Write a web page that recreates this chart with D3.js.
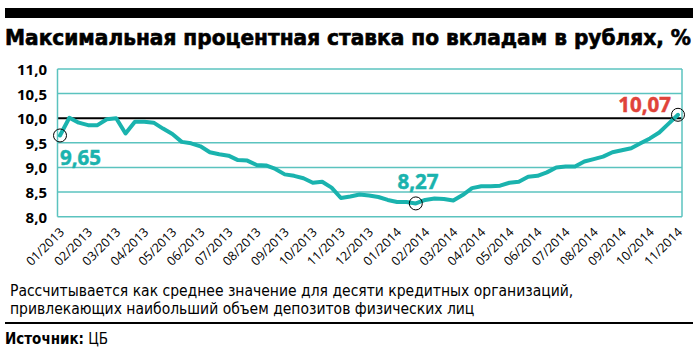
<!DOCTYPE html>
<html><head><meta charset="utf-8">
<script src="https://cdn.jsdelivr.net/npm/d3@7"></script>
<style>
html,body{margin:0;padding:0;background:#fff;}
svg{display:block;}
</style>
</head><body>
<svg id="c" width="700" height="350"></svg>
<script>
const title = "Максимальная процентная ставка по вкладам в рублях, %";
const note1 = "Рассчитывается как среднее значение для десяти кредитных организаций,";
const note2 = "привлекающих наибольший объем депозитов физических лиц";
const sourceLabel = "Источник:";
const sourceText = " ЦБ";
const months = ["01/2013","02/2013","03/2013","04/2013","05/2013","06/2013","07/2013","08/2013","09/2013","10/2013","11/2013","12/2013",
  "01/2014","02/2014","03/2014","04/2014","05/2014","06/2014","07/2014","08/2014","09/2014","10/2014","11/2014"];
const rates = [9.65, 10.01, 9.91, 9.86, 9.86, 9.98, 10.0, 9.69, 9.93, 9.93,
  9.91, 9.79, 9.68, 9.52, 9.49, 9.43, 9.31, 9.27, 9.24, 9.15,
  9.14, 9.05, 9.04, 8.97, 8.86, 8.83, 8.78, 8.69, 8.71, 8.59,
  8.38, 8.41, 8.45, 8.43, 8.40, 8.34, 8.30, 8.30, 8.27, 8.34,
  8.37, 8.36, 8.33, 8.44, 8.58, 8.62, 8.62, 8.63, 8.69, 8.71,
  8.81, 8.83, 8.90, 9.00, 9.02, 9.02, 9.12, 9.17, 9.22, 9.31,
  9.35, 9.39, 9.49, 9.59, 9.71, 9.89, 10.07];
const yTicks = [8.0, 8.5, 9.0, 9.5, 10.0, 10.5, 11.0];
const calloutIdx = [0, 38, 66];
const calloutText = ["9,65", "8,27", "10,07"];

const svg = d3.select("#c");
const TEAL = "#1ab3ae", GRID = "#5bc3bf", RED = "#e0433a";
const L = 57.5, R = 682, T = 69, B = 216.7;
const x = d3.scaleLinear().domain([0, rates.length - 1]).range([60, 678]);
const y = d3.scaleLinear().domain([8, 11]).range([B, T]);
const fmt = v => d3.format(".1f")(v).replace(".", ",");

// top bar
svg.append("rect").attr("x", 5).attr("y", 8).attr("width", 688).attr("height", 10).attr("fill", "#000");
svg.append("text").attr("x", 5).attr("y", 45)
  .attr("font-family", "'DejaVu Sans Condensed','DejaVu Sans'").attr("font-weight", "bold")
  .attr("font-size", 22).attr("textLength", 686).attr("lengthAdjust", "spacingAndGlyphs")
  .attr("fill", "#000").attr("stroke", "#000").attr("stroke-width", 0.6).text(title);

// gridlines
const g = svg.append("g");
g.selectAll("line.grid").data(yTicks).enter().append("line")
  .attr("x1", L).attr("x2", R).attr("y1", d => y(d)).attr("y2", d => y(d))
  .attr("stroke", d => d === 10 ? "#000" : GRID).attr("stroke-width", d => d === 10 ? 2 : 1.5);
g.append("line").attr("x1", L).attr("x2", L).attr("y1", T).attr("y2", B).attr("stroke", GRID).attr("stroke-width", 1.5);
g.append("line").attr("x1", R).attr("x2", R).attr("y1", T).attr("y2", B).attr("stroke", GRID).attr("stroke-width", 1.5);

// y axis labels
const yAxis = d3.axisLeft(y).tickValues(yTicks).tickFormat(fmt).tickSize(0).tickPadding(0);
const ya = svg.append("g").attr("transform", `translate(47,0)`).call(yAxis);
ya.select(".domain").remove();
ya.selectAll("text").attr("font-family", "'Open Sans'").attr("font-weight", "bold")
  .attr("font-size", 15).attr("fill", "#000").attr("dy", "0.36em");

// x axis labels
const xa = svg.append("g");
xa.selectAll("text").data(months).enter().append("text")
  .attr("transform", (d, i) => `translate(${x(i * 3) + 5},233) rotate(-45)`)
  .attr("text-anchor", "end")
  .attr("font-family", "'Open Sans'").attr("font-weight", 500).attr("font-size", 12.5).attr("fill", "#000")
  .text(d => d);

// line
const line = d3.line().x((d, i) => x(i)).y(d => y(d)).curve(d3.curveLinear);
svg.append("path").datum(rates).attr("d", line).attr("fill", "none")
  .attr("stroke", TEAL).attr("stroke-width", 4).attr("stroke-linejoin", "round").attr("stroke-linecap", "round");

// callouts
svg.selectAll("circle.co").data(calloutIdx).enter().append("circle")
  .attr("cx", d => x(d)).attr("cy", d => y(rates[d]))
  .attr("r", 6.5).attr("fill", "none").attr("stroke", "#000").attr("stroke-width", 1);
const labelPos = [[60, 165, "start", TEAL], [418, 189, "middle", TEAL], [671, 112, "end", RED]];
svg.selectAll("text.co").data(calloutText).enter().append("text")
  .attr("x", (d, i) => labelPos[i][0]).attr("y", (d, i) => labelPos[i][1])
  .attr("text-anchor", (d, i) => labelPos[i][2]).attr("fill", (d, i) => labelPos[i][3])
  .attr("stroke", (d, i) => labelPos[i][3]).attr("stroke-width", 0.5)
  .attr("font-family", "'Open Sans'").attr("font-weight", "bold").attr("font-size", 20.5)
  .text(d => d);

// footnote
const fn = svg.append("g").attr("font-family", "'DejaVu Sans Condensed','DejaVu Sans'").attr("font-size", 15.5).attr("fill", "#000");
fn.append("text").attr("x", 10).attr("y", 296).text(note1);
fn.append("text").attr("x", 10).attr("y", 314).text(note2);
svg.append("line").attr("x1", 5).attr("x2", 693).attr("y1", 323).attr("y2", 323).attr("stroke", "#000").attr("stroke-width", 2);
const src = svg.append("text").attr("x", 5).attr("y", 344).attr("font-family", "'DejaVu Sans Condensed','DejaVu Sans'").attr("font-size", 15);
src.append("tspan").attr("font-weight", "bold").text(sourceLabel);
src.append("tspan").text(sourceText);
</script>
</body></html>
